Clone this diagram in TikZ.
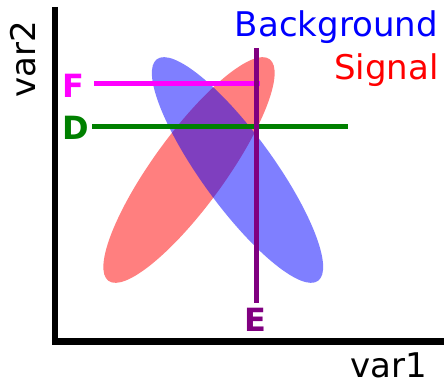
\documentclass[tikz,border=0pt]{standalone}
\usepackage{fontspec}
\setmainfont{DejaVu Sans}
\definecolor{fmag}{RGB}{255,0,255}
\definecolor{dgreen}{RGB}{0,128,0}
\definecolor{epurple}{RGB}{128,0,128}
\begin{document}
\begin{tikzpicture}[x=1pt,y=1pt,
  lbl/.style={inner sep=0pt,font=\fontsize{34}{40}\selectfont},
  blbl/.style={inner sep=0pt,font=\fontsize{32}{38}\selectfont\bfseries},
  cut/.style={line width=5pt}]
\useasboundingbox (0,0) rectangle (444,385);
% axes
\coordinate (ytop) at (55,378);
\coordinate (orig) at (55,43.3);
\coordinate (xend) at (444,43.3);
\draw[line width=6.5pt] (ytop) -- (orig) -- (xend);
% ellipses
\fill[red,opacity=0.5] (189,215) ellipse[x radius=137,y radius=36,rotate=54];
\fill[blue,opacity=0.5] (237.5,215) ellipse[x radius=137,y radius=36,rotate=-54];
% labels
\node[lbl,anchor=base east,text=blue] (bg) at (438,348) {Background};
\node[lbl,anchor=base east,text=red] (sig) at (439,305) {Signal};
\node[lbl,anchor=base east] (v1) at (427,7) {var1};
\node[lbl,anchor=base west,rotate=90] (v2) at (35,287) {var2};
\node[blbl,anchor=base west,text=fmag] (F) at (62,287) {F};
\node[blbl,anchor=base west,text=dgreen] (D) at (62,245) {D};
\node[blbl,anchor=base west,text=epurple] (E) at (244,53) {E};
% cut lines
\coordinate (Fa) at (94,301);
\coordinate (Fb) at (260,301);
\coordinate (Da) at (92,258);
\coordinate (Db) at (348,258);
\coordinate (Ea) at (256,82);
\coordinate (Eb) at (256,337);
\draw[cut,dgreen] (Da) -- (Db);
\draw[cut,fmag] (Fa) -- (Fb);
\draw[cut,epurple] (Ea) -- (Eb);
\end{tikzpicture}
\end{document}
